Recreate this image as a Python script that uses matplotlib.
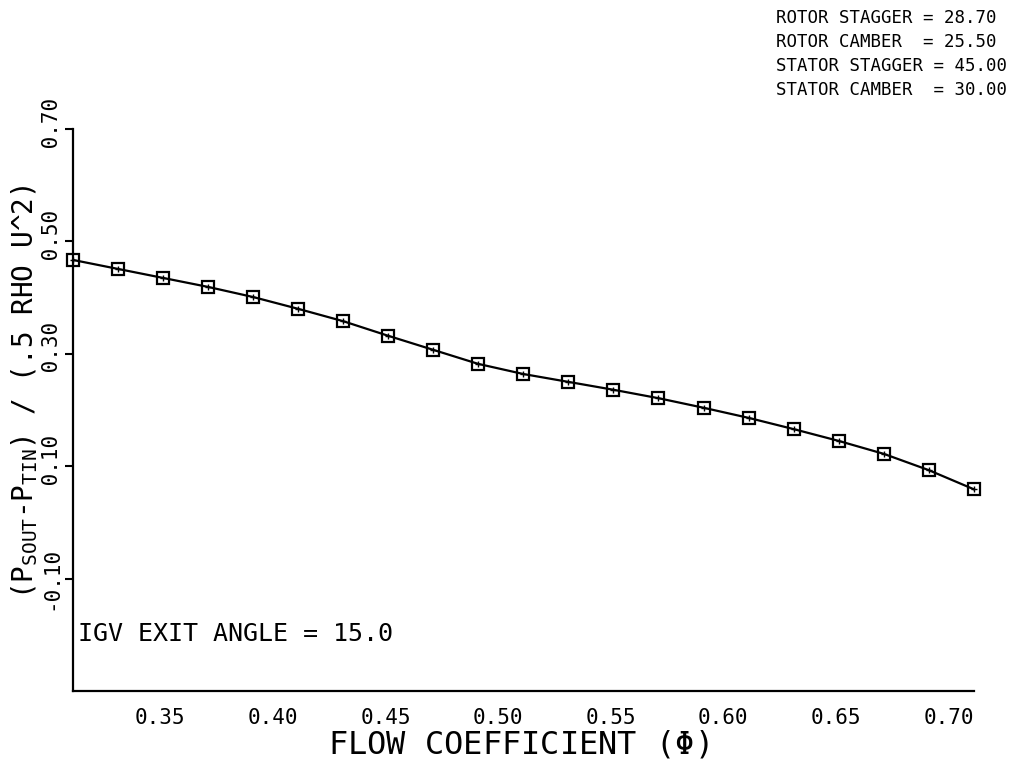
import matplotlib
matplotlib.use("Agg")
import matplotlib.pyplot as plt

plt.rcParams["font.family"] = ["DejaVu Sans Mono", "DejaVu Sans"]
plt.rcParams["mathtext.fontset"] = "custom"
plt.rcParams["mathtext.rm"] = "DejaVu Sans Mono"

# Flow coefficient and static-to-total pressure rise coefficient
phi = [0.30, 0.32, 0.34, 0.36, 0.38, 0.40, 0.42, 0.44, 0.46, 0.48, 0.50,
       0.52, 0.54, 0.56, 0.58, 0.60, 0.62, 0.64, 0.66, 0.68, 0.70]
psi = [0.467, 0.451, 0.435, 0.419, 0.401, 0.380, 0.358, 0.332, 0.307, 0.282, 0.264,
       0.250, 0.236, 0.221, 0.204, 0.186, 0.166, 0.145, 0.122, 0.093, 0.059]

x_ticks = [0.35, 0.40, 0.45, 0.50, 0.55, 0.60, 0.65, 0.70]
y_ticks = [0.70, 0.50, 0.30, 0.10, -0.10]

blade_info = [
    "ROTOR STAGGER = 28.70",
    "ROTOR CAMBER  = 25.50",
    "STATOR STAGGER = 45.00",
    "STATOR CAMBER  = 30.00",
]
igv_note = "IGV EXIT ANGLE = 15.0"

fig = plt.figure(figsize=(10.19, 7.61), dpi=100)
ax = fig.add_axes([0.0716, 0.092, 0.884, 0.7385])

ax.plot(phi, psi, color="black", lw=1.6, marker="s", ms=8,
        mfc="none", mec="black", mew=1.6, clip_on=False, zorder=3)
# small cross inside each square symbol
ax.plot(phi, psi, ls="none", marker="+", ms=5, mec="black", mew=1.0,
        clip_on=False, zorder=4)

ax.set_xlim(0.30, 0.70)
ax.set_ylim(-0.30, 0.70)
ax.set_xticks(x_ticks)
ax.set_xticklabels([f"{v:.2f}" for v in x_ticks], fontsize=15, ha="right")
ax.set_yticks(y_ticks)
# fixed-width fields, so positive values carry a leading blank
ax.set_yticklabels([f"{v:5.2f}" for v in y_ticks], fontsize=15,
                   rotation=90, va="center")
ax.tick_params(axis="x", length=0, pad=12)
ax.tick_params(axis="y", length=6, width=1.5, pad=2)

for side in ("top", "right"):
    ax.spines[side].set_visible(False)
for side in ("left", "bottom"):
    ax.spines[side].set_linewidth(1.6)

fig.text(518 / 1019, 1 - 745 / 761, r"FLOW COEFFICIENT ($\Phi$)",
         fontsize=23, ha="center", va="center")
fig.text(25 / 1019, 1 - 392 / 761,
         r"(P$_{\rm SOUT}$-P$_{\rm TIN}$) / (.5 RHO U^2)",
         fontsize=20, rotation=90, ha="center", va="center")

for i, line in enumerate(blade_info):
    fig.text(776 / 1019, 1 - (18 + 24 * i) / 761, line,
             fontsize=12.5, ha="left", va="center")

ax.text(0.006, 0.101, igv_note, transform=ax.transAxes,
        fontsize=18, ha="left", va="center")

fig.savefig("out.png", dpi=100)
